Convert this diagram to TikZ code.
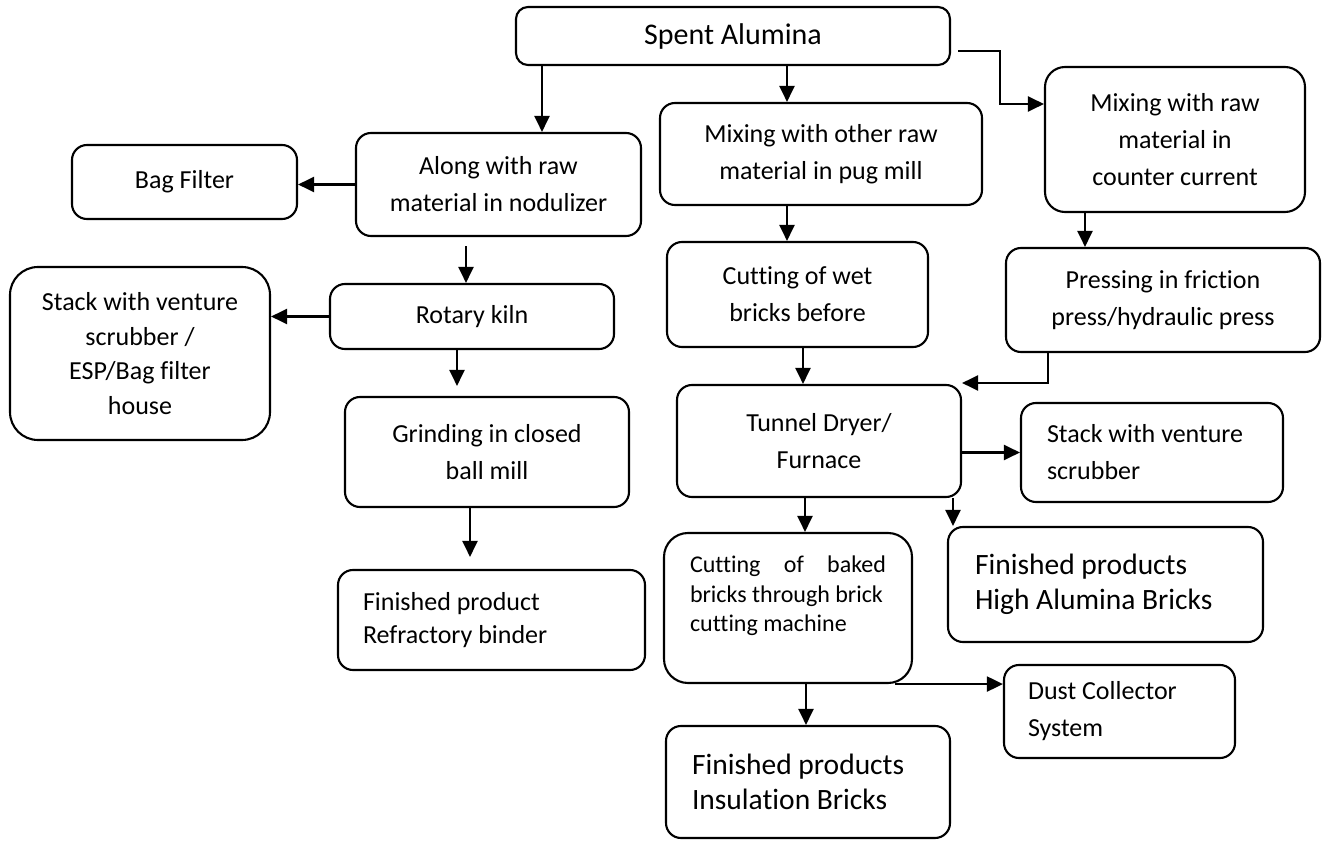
\documentclass[tikz,border=0pt]{standalone}
\usepackage{fontspec}
\setmainfont{Carlito}[Ligatures=CommonOff]
\usetikzlibrary{arrows.meta}

\begin{document}
\begin{tikzpicture}[x=1pt,y=-1pt,
	box/.style={draw, line width=2.1pt, rounded corners=15pt, align=center, inner sep=0pt, font=\fontsize{26}{37}\selectfont},
	lbox/.style={box, align=flush left},
	big/.style={font=\fontsize{29.5}{35}\selectfont},
	arr/.style={line width=2.1pt, -{Triangle[length=16pt,width=15pt]}}]
			
			\useasboundingbox (0,0) rectangle (1323,842);
			
			%%%%% BOXES %%%%%
			
			\node[box, minimum width=434, minimum height=58, rounded corners=12pt, font=\fontsize{30}{36}\selectfont, text depth=4pt] (spent) at (733,36) {Spent Alumina};
			
			\node[box, minimum width=225, minimum height=74] (bag) at (184.5,182) {Bag Filter};
			\node[box, minimum width=285, minimum height=103] (along) at (498.5,184.5) {Along with raw\\ material in nodulizer};
			\node[box, minimum width=322, minimum height=102] (pug) at (821,154) {Mixing with other raw\\ material in pug mill};
			\node[box, minimum width=260, minimum height=145, rounded corners=20pt] (ccur) at (1175,139.5) {Mixing with raw\\ material in\\ counter current};
			
			\node[box, minimum width=284, minimum height=65] (rotary) at (472,316.5) {Rotary kiln};
			\node[box, minimum width=260, minimum height=173, rounded corners=28pt, font=\fontsize{26}{34.5}\selectfont] (stack1) at (140,353.5) {Stack with venture\\ scrubber /\\ ESP/Bag filter\\ house};
			\node[box, minimum width=284, minimum height=110] (grind) at (487,452) {Grinding in closed\\ ball mill};
			\node[lbox, inner xsep=25pt, text width=257pt, minimum height=100, font=\fontsize{26}{33}\selectfont] (fin1) at (491.5,620) {Finished product\\ Refractory binder};
			
			\node[box, minimum width=261, minimum height=105] (cutw) at (797.5,294.5) {Cutting of wet\\ bricks before};
			\node[box, minimum width=314, minimum height=104] (press) at (1163,300) {Pressing in friction\\ press/hydraulic press};
			\node[box, minimum width=284, minimum height=112] (tunnel) at (819,441) {Tunnel Dryer/\\ Furnace};
			\node[lbox, inner xsep=26pt, text width=210pt, minimum height=99] (stack2) at (1152,452.5) {Stack with venture\\ scrubber};
			\node[lbox, big, inner xsep=27pt, text width=261pt, minimum height=115] (fin2) at (1105.5,584.5) {Finished products\\ High Alumina Bricks};
			
			\node[box, minimum width=248, minimum height=150, rounded corners=24pt, font=\fontsize{24}{29.5}\selectfont] (cutb) at (788,608) {\parbox[c][104pt][t]{196pt}{Cutting\hfill of\hfill baked\\ bricks through brick\\ cutting machine}};
			\node[lbox, inner xsep=24pt, text width=183pt, minimum height=93] (dust) at (1119.5,711.5) {Dust Collector\\ System};
			\node[lbox, big, inner xsep=26pt, text width=232pt, minimum height=112] (fin3) at (808,782) {Finished products\\ Insulation Bricks};
			
			%%%%% ARROWS %%%%%
			
			\draw[arr] (542,0 |- spent.south) -- (542,0 |- along.north);
			\draw[arr] (787,0 |- spent.south) -- (787,0 |- pug.north);
			\draw[arr] ([shift={(7,15)}]spent.east) -| (1000,104) -- (ccur.west |- 1000,104);
			
			\draw[arr] (along.west) -- (along.west -| bag.east);
			\draw[arr, shorten <=9pt] (466,0 |- along.south) -- (466,0 |- rotary.north);
			\draw[arr] (rotary.west) -- (rotary.west -| stack1.east);
			\draw[arr, shorten >=10pt] (457,0 |- rotary.south) -- (457,0 |- grind.north);
			\draw[arr, shorten >=12pt] (470,0 |- grind.south) -- (470,0 |- fin1.north);
			
			\draw[arr] (787,0 |- pug.south) -- (787,0 |- cutw.north);
			\draw[arr] (1085,0 |- ccur.south) -- (1085,0 |- press.north);
			\draw[arr] (803,0 |- cutw.south) -- (803,0 |- tunnel.north);
			\draw[arr] (1048,0 |- press.south) |- (tunnel.east |- 0,383);
			
			\draw[arr] (stack2.west -| tunnel.east) -- (stack2.west);
			\draw[arr] (953,0 |- tunnel.south) -- (953,0 |- fin2.north);
			\draw[arr] (805,0 |- tunnel.south) -- (805,0 |- cutb.north);
			\draw[arr] (cutb.south -| 895,0) -- (dust.west |- cutb.south);
			\draw[arr] (806,0 |- cutb.south) -- (806,0 |- fin3.north);
			
		\end{tikzpicture}
\end{document}
